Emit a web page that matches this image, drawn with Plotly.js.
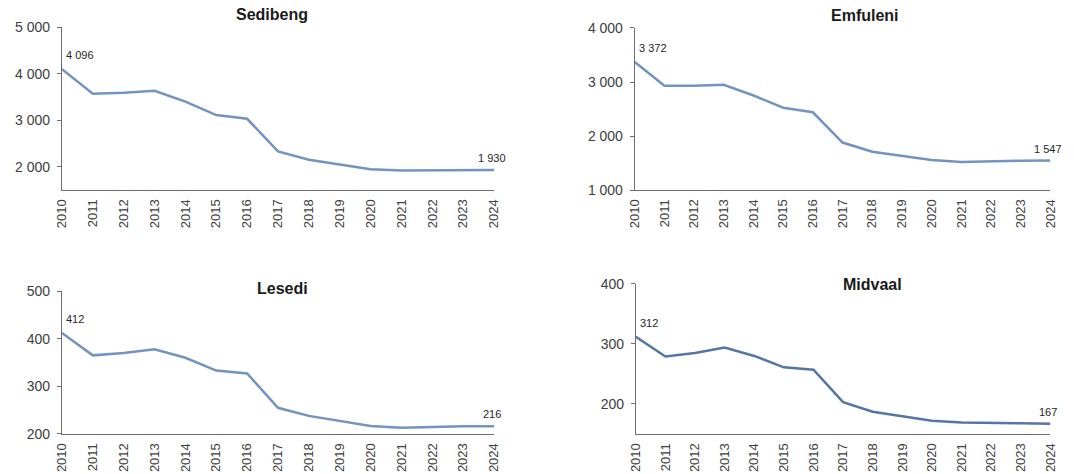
<!DOCTYPE html>
<html>
<head>
<meta charset="utf-8">
<script src="https://cdn.plot.ly/plotly-3.0.1.min.js"></script>
<style>html,body{margin:0;padding:0;background:#fff;}#chart{width:1074px;height:474px;}</style>
</head>
<body>
<div id="chart"></div>
<script>
const years = ["2010","2011","2012","2013","2014","2015","2016","2017","2018","2019","2020","2021","2022","2023","2024"];
const sedibeng = [4096, 3570, 3590, 3630, 3400, 3110, 3030, 2330, 2150, 2050, 1945, 1920, 1920, 1920, 1930];
const emfuleni = [3372, 2930, 2930, 2950, 2750, 2525, 2440, 1880, 1710, 1630, 1555, 1520, 1535, 1545, 1547];
const lesedi = [412, 365, 370, 378, 360, 333, 327, 255, 238, 228, 217, 213, 215, 216, 216];
const midvaal = [312, 279, 285, 294, 280, 261, 257, 203, 187, 179, 172, 169, 169, 168, 167];
const titles = ["Sedibeng", "Emfuleni", "Lesedi", "Midvaal"];
const firstLabels = ["4 096", "3 372", "412", "312"];
const lastLabels = ["1 930", "1 547", "216", "167"];
const yTicks = [[2000, 3000, 4000, 5000], [1000, 2000, 3000, 4000], [200, 300, 400, 500], [200, 300, 400]];
const yTickText = [["2 000", "3 000", "4 000", "5 000"], ["1 000", "2 000", "3 000", "4 000"], ["200", "300", "400", "500"], ["200", "300", "400"]];
const yRanges = [[1500, 5000], [1000, 4000], [200, 500], [150, 400]];

const series = [sedibeng, emfuleni, lesedi, midvaal];
const lineColors = ["#7393c0", "#7393c0", "#7393c0", "#5575a6"];
const xDomains = [[0.0577, 0.46], [0.591, 0.978], [0.0577, 0.46], [0.592, 0.978]];
const yDomains = [[0.599, 0.943], [0.599, 0.941], [0.0844, 0.386], [0.0844, 0.401]];
const titlePos = [[0.253, 0.97], [0.805, 0.968], [0.263, 0.392], [0.812, 0.40]];

const font = "Liberation Sans, Arial, sans-serif";
const traces = [];
const layout = {
  width: 1074, height: 474,
  margin: {l: 0, r: 0, t: 0, b: 0},
  paper_bgcolor: "#fff", plot_bgcolor: "#fff",
  showlegend: false,
  font: {family: font, color: "#404040"},
  annotations: []
};
series.forEach((s, i) => {
  const n = i === 0 ? "" : String(i + 1);
  traces.push({
    x: years, y: s, type: "scatter", mode: "lines",
    xaxis: "x" + n, yaxis: "y" + n,
    line: {color: lineColors[i], width: 2.5},
    hoverinfo: "skip"
  });
  layout["xaxis" + n] = {
    domain: xDomains[i], anchor: "y" + n, type: "category",
    range: [0, years.length - 1],
    showgrid: false, zeroline: false, showline: true, linecolor: "#6e6e6e", linewidth: 1,
    ticks: "", tickangle: -90, ticklabelstandoff: 3,
    tickfont: {size: 13, color: "#404040", family: font},
    fixedrange: true
  };
  layout["yaxis" + n] = {
    domain: yDomains[i], anchor: "x" + n, range: yRanges[i],
    tickvals: yTicks[i], ticktext: yTickText[i],
    showgrid: false, zeroline: false, showline: true, linecolor: "#6e6e6e", linewidth: 1,
    ticks: "outside", ticklen: 4, tickcolor: "#6e6e6e", ticklabelstandoff: 4,
    tickfont: {size: 14, color: "#404040", family: font},
    fixedrange: true
  };
  layout.annotations.push({
    xref: "paper", yref: "paper", x: titlePos[i][0], y: titlePos[i][1],
    text: "<b>" + titles[i] + "</b>", showarrow: false,
    xanchor: "center", yanchor: "middle",
    font: {size: 16, color: "#1a1a1a", family: font}
  });
  layout.annotations.push({
    xref: "x" + n, yref: "y" + n, x: 0, y: s[0],
    text: firstLabels[i], showarrow: false,
    xanchor: "left", yanchor: "bottom", xshift: 2, yshift: 6,
    font: {size: 11, color: "#262626", family: font}
  });
  layout.annotations.push({
    xref: "x" + n, yref: "y" + n, x: years.length - 1, y: s[s.length - 1],
    text: lastLabels[i], showarrow: false,
    xanchor: "center", yanchor: "bottom", xshift: -2, yshift: 4,
    font: {size: 11, color: "#262626", family: font}
  });
});
Plotly.newPlot("chart", traces, layout, {staticPlot: true});
</script>
</body>
</html>
